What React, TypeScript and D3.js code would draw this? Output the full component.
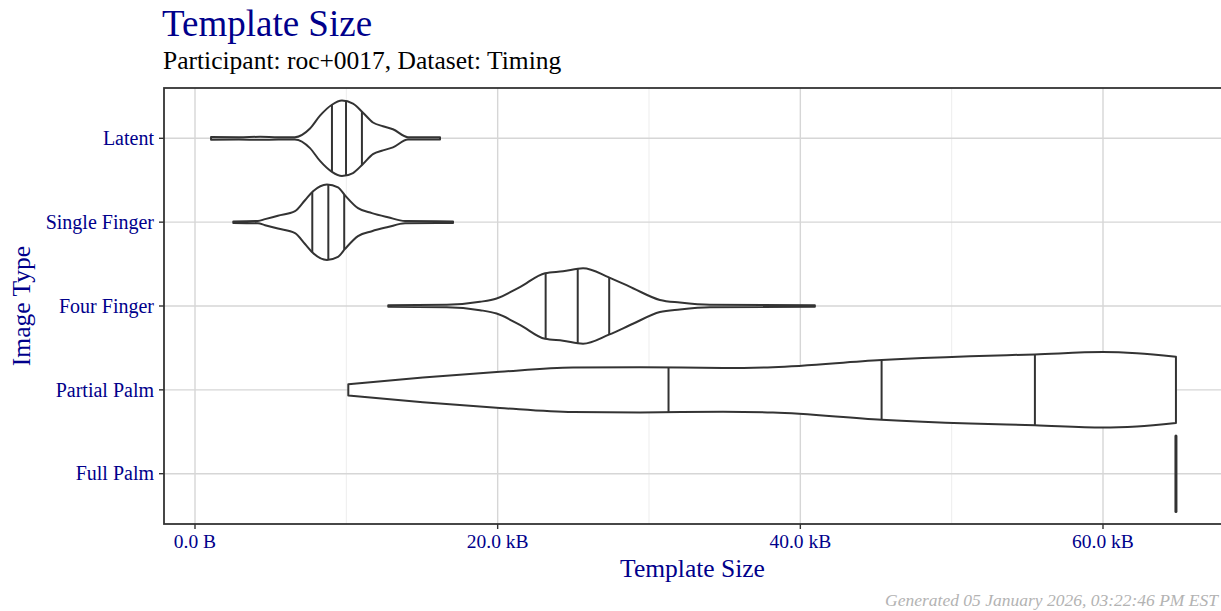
import React, { useEffect, useRef } from 'react';
import * as d3 from 'd3';

// categories, top to bottom
const categories = ['Latent', 'Single Finger', 'Four Finger', 'Partial Palm', 'Full Palm'];

// violin outlines: [template size in kB, relative density]
const latentProfile: [number, number][] = [
  [1.06, 0.035], [2.9, 0.03], [4.3, 0.04], [5.5, 0.03], [6.6, 0.03], [7.6, 0.26], [8.26, 0.6],
  [9.05, 0.89], [9.71, 1], [10.44, 0.92], [11.1, 0.68], [11.76, 0.42], [12.42, 0.32],
  [13.08, 0.24], [14.07, 0.03], [16.19, 0.03],
];
const singleFingerProfile: [number, number][] = [
  [2.53, 0.02], [4.16, 0.03], [4.63, 0.08], [5.48, 0.17], [6.61, 0.29], [7.27, 0.58],
  [7.8, 0.82], [8.72, 1], [9.45, 0.92], [9.91, 0.71], [10.77, 0.37], [11.69, 0.24],
  [12.75, 0.13], [13.88, 0.03], [17.05, 0.02],
];
const fourFingerProfile: [number, number][] = [
  [12.77, 0.02], [16.63, 0.03], [18.83, 0.11], [19.93, 0.2], [21.47, 0.5], [23.13, 0.87],
  [24.32, 0.92], [25.64, 1], [27.35, 0.76], [28.94, 0.47], [30.72, 0.16], [32.04, 0.09],
  [34.03, 0.03], [40.96, 0.02],
];
const partialPalmProfile: [number, number][] = [
  [10.13, 0.15], [15.06, 0.33], [20.15, 0.48], [24.98, 0.59], [29.4, 0.6], [34.89, 0.58],
  [38.19, 0.6], [45.37, 0.79], [51.21, 0.89], [55.5, 0.94], [60.0, 1], [62.24, 0.97], [64.82, 0.88],
];
const fullPalmProfile: [number, number][] = [[64.82, 1]];

const profiles = [latentProfile, singleFingerProfile, fourFingerProfile, partialPalmProfile, fullPalmProfile];

// 25%, 50%, 75% quantiles in kB
const latentQuantiles = [9.05, 9.98, 11.03];
const singleFingerQuantiles = [7.75, 8.81, 9.86];
const fourFingerQuantiles = [23.17, 25.29, 27.37];
const partialPalmQuantiles = [31.29, 45.37, 55.5];
const fullPalmQuantiles: number[] = [];

const quantiles = [latentQuantiles, singleFingerQuantiles, fourFingerQuantiles, partialPalmQuantiles, fullPalmQuantiles];

const majorTicks = [0, 20, 40, 60];
const minorTicks = [10, 30, 50];

const BLUE = '#00008B';
const FONT = '"Liberation Serif", serif';
const INK = '#333333';

const App = () => {
  const chartRef = useRef<SVGSVGElement>(null);

  useEffect(() => {
    const width = 1221;
    const height = 611;
    const left = 164, right = 1230, top = 88, bottom = 524;

    const svg = d3.select(chartRef.current);
    svg.selectAll('*').remove();

    const x = d3.scaleLinear().domain([0, 60]).range([195, 1103]);
    const y = d3.scalePoint<string>().domain(categories).range([top, bottom]).padding(0.6);
    const halfWidth = y.step() * 0.45;

    // panel background + grid
    svg.append('rect').attr('x', left).attr('y', top).attr('width', right - left).attr('height', bottom - top)
      .attr('fill', 'white');

    svg.selectAll('.minor').data(minorTicks).enter().append('line')
      .attr('x1', d => x(d)).attr('x2', d => x(d)).attr('y1', top).attr('y2', bottom)
      .attr('stroke', '#ebebeb').attr('stroke-width', 0.9);
    svg.selectAll('.major').data(majorTicks).enter().append('line')
      .attr('x1', d => x(d)).attr('x2', d => x(d)).attr('y1', top).attr('y2', bottom)
      .attr('stroke', '#d6d6d6').attr('stroke-width', 1.4);
    svg.selectAll('.hgrid').data(categories).enter().append('line')
      .attr('x1', left).attr('x2', right).attr('y1', d => y(d)!).attr('y2', d => y(d)!)
      .attr('stroke', '#d6d6d6').attr('stroke-width', 1.4);

    // violins
    categories.forEach((cat, i) => {
      const cy = y(cat)!;
      const prof = profiles[i];
      if (prof.length < 2) {
        svg.append('line')
          .attr('x1', x(prof[0][0])).attr('x2', x(prof[0][0]))
          .attr('y1', cy - prof[0][1] * halfWidth).attr('y2', cy + prof[0][1] * halfWidth)
          .attr('stroke', INK).attr('stroke-width', 3).attr('stroke-linecap', 'round');
        return;
      }
      const area = d3.area<[number, number]>()
        .x(d => x(d[0]))
        .y0(d => cy - d[1] * halfWidth)
        .y1(d => cy + d[1] * halfWidth)
        .curve(d3.curveMonotoneX);
      svg.append('path').attr('d', area(prof)!)
        .attr('fill', 'white').attr('stroke', INK).attr('stroke-width', 2)
        .attr('stroke-linejoin', 'round');

      const xs = prof.map(p => p[0]);
      const interp = d3.scaleLinear().domain(xs).range(prof.map(p => p[1]));
      quantiles[i].forEach(q => {
        const hw = interp(q) * halfWidth;
        svg.append('line')
          .attr('x1', x(q)).attr('x2', x(q)).attr('y1', cy - hw).attr('y2', cy + hw)
          .attr('stroke', INK).attr('stroke-width', 2);
      });
    });

    // panel border
    svg.append('rect').attr('x', left).attr('y', top).attr('width', right - left).attr('height', bottom - top)
      .attr('fill', 'none').attr('stroke', INK).attr('stroke-width', 1.8);

    // x axis
    const xAxis = svg.append('g').attr('transform', `translate(0, ${bottom})`);
    xAxis.selectAll('line').data(majorTicks).enter().append('line')
      .attr('x1', d => x(d)).attr('x2', d => x(d)).attr('y1', 0).attr('y2', 5)
      .attr('stroke', INK).attr('stroke-width', 1.4);
    xAxis.selectAll('text').data(majorTicks).enter().append('text')
      .attr('x', d => x(d)).attr('y', 24)
      .attr('text-anchor', 'middle')
      .style('font-family', FONT).style('font-size', '19.5px').attr('fill', BLUE)
      .text(d => (d === 0 ? '0.0 B' : `${d.toFixed(1)} kB`));

    // y axis
    const yAxis = svg.append('g');
    yAxis.selectAll('line').data(categories).enter().append('line')
      .attr('x1', left - 5).attr('x2', left).attr('y1', d => y(d)!).attr('y2', d => y(d)!)
      .attr('stroke', INK).attr('stroke-width', 1.4);
    yAxis.selectAll('text').data(categories).enter().append('text')
      .attr('x', left - 10).attr('y', d => y(d)!).attr('dy', '0.34em')
      .attr('text-anchor', 'end')
      .style('font-family', FONT).style('font-size', '20px').attr('fill', BLUE)
      .text(d => d);

    // titles
    svg.append('text').attr('x', 162).attr('y', 36)
      .style('font-family', FONT).style('font-size', '37px').attr('fill', BLUE)
      .text('Template Size');
    svg.append('text').attr('x', 163).attr('y', 69)
      .style('font-family', FONT).style('font-size', '25.5px').attr('fill', 'black')
      .text('Participant: roc+0017, Dataset: Timing');
    svg.append('text').attr('x', (left + 1221) / 2).attr('y', 577)
      .attr('text-anchor', 'middle')
      .style('font-family', FONT).style('font-size', '25.5px').attr('fill', BLUE)
      .text('Template Size');
    svg.append('text')
      .attr('transform', `translate(30, ${(top + bottom) / 2}) rotate(-90)`)
      .attr('text-anchor', 'middle')
      .style('font-family', FONT).style('font-size', '25.5px').attr('fill', BLUE)
      .text('Image Type');
    svg.append('text').attr('x', 1218).attr('y', 606)
      .attr('text-anchor', 'end')
      .style('font-family', FONT).style('font-size', '17.5px').style('font-style', 'italic')
      .attr('fill', '#b3b3b3')
      .text('Generated 05 January 2026, 03:22:46 PM EST');

    svg.attr('width', width).attr('height', height);
  }, []);

  return (
    <svg ref={chartRef} width={1221} height={611}
      style={{ position: 'absolute', left: 0, top: 0, background: 'white' }} />
  );
};

export default App;
